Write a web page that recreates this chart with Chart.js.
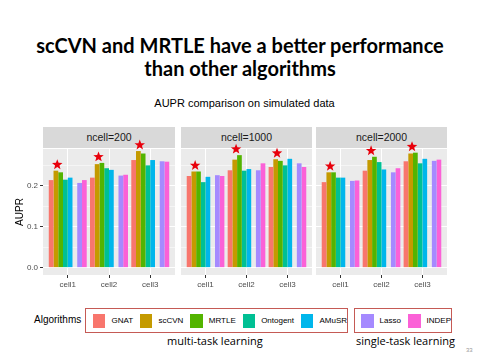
<!DOCTYPE html>
<html lang="en">
<head>
<meta charset="UTF-8">
<title>AUPR comparison on simulated data</title>
<style>
  body { margin: 0; width: 480px; height: 360px; background: #fff; position: relative; overflow: hidden;
         font-family: "Liberation Sans", Arial, sans-serif; }
  .abs { position: absolute; }
  #title { left: 0; width: 480px; top: 34px; text-align: center; font-family: Lato, sans-serif; font-weight: bold;
           font-size: 20px; line-height: 23px; color: #000; }
  #subtitle { left: 43px; width: 403px; top: 97px; text-align: center; font-size: 11px; color: #000; }
  .strip { top: 127px; height: 21px; line-height: 21px; background: #D9D9D9; text-align: center;
           font-size: 10.5px; color: #1A1A1A; }
  .box { border: 1px solid #C55A55; height: 25px; display: flex; align-items: center; gap: 7px; box-sizing: border-box; }
  .key { width: 14px; height: 14px; }
  .lab { font-size: 8px; color: #000; margin-left: -1px; }
  .group { font-family: "Open Sans", sans-serif; font-size: 11px; color: #000; top: 333px; }
</style>
</head>
<body>
<div id="title" class="abs">scCVN and MRTLE have a better performance<br>than other algorithms</div>
<div id="subtitle" class="abs">AUPR comparison on simulated data</div>
<div id="strips"></div>
<canvas id="p0" class="abs" width="175" height="170" style="left:0px;top:127px"></canvas>
<canvas id="p1" class="abs" width="131" height="170" style="left:181px;top:127px"></canvas>
<canvas id="p2" class="abs" width="131" height="170" style="left:316px;top:127px"></canvas>
<div class="abs" style="left:34px;top:314px;font-size:10px">Algorithms</div>
<div id="box1" class="abs box" style="left:85px;top:308px;width:263px;padding-left:7px"></div>
<div id="box2" class="abs box" style="left:354px;top:308px;width:98px;padding-left:6px"></div>
<div class="abs group" style="left:167px">multi-task learning</div>
<div class="abs group" style="left:356px">single-task learning</div>
<div class="abs" style="left:466px;top:347px;font-size:6px;color:#999">33</div>

<script src="https://cdn.jsdelivr.net/npm/chart.js"></script>
<script>
const cells = ['cell1', 'cell2', 'cell3'];
const panels = ['ncell=200', 'ncell=1000', 'ncell=2000'];
const algorithms = ['GNAT', 'scCVN', 'MRTLE', 'Ontogent', 'AMuSR', 'Lasso', 'INDEP'];
const colors = ['#F8766D', '#C49A00', '#53B400', '#00C094', '#00B6EB', '#A58AFF', '#FB61D7'];
const multiTask = 5; // first 5 algorithms are multi-task

// AUPR, one row per algorithm: [cell1, cell2, cell3]
const n200 = [
  [0.214, 0.220, 0.263],
  [0.237, 0.253, 0.285],
  [0.233, 0.256, 0.279],
  [0.215, 0.243, 0.250],
  [0.220, 0.239, 0.263],
  [0.207, 0.225, 0.260],
  [0.214, 0.227, 0.259]
];
const n1000 = [
  [0.224, 0.238, 0.246],
  [0.235, 0.264, 0.265],
  [0.235, 0.275, 0.261],
  [0.209, 0.237, 0.250],
  [0.222, 0.241, 0.266],
  [0.226, 0.238, 0.255],
  [0.224, 0.255, 0.246]
];
const n2000 = [
  [0.209, 0.237, 0.260],
  [0.233, 0.263, 0.279],
  [0.233, 0.271, 0.281],
  [0.220, 0.258, 0.255],
  [0.220, 0.240, 0.266],
  [0.212, 0.233, 0.261],
  [0.213, 0.243, 0.264]
];
const panelData = [n200, n1000, n2000];
const starred = [[1, 1, 1], [1, 1, 1], [1, 1, 1]];

const yTicks = [0, 0.1, 0.2];
const yLabels = ['0.0', '0.1', '0.2'];
const yMinor = [0.05, 0.15, 0.25];

// strips
const stripLeft = [43, 181, 316];
const stripBox = document.getElementById('strips');
panels.forEach((p, i) => {
  const d = document.createElement('div');
  d.className = 'abs strip';
  d.style.left = stripLeft[i] + 'px';
  d.style.width = (i === 0 ? 132 : 131) + 'px';
  d.textContent = p;
  stripBox.appendChild(d);
});

// legend
algorithms.forEach((a, i) => {
  const box = document.getElementById(i < multiTask ? 'box1' : 'box2');
  const k = document.createElement('div');
  k.className = 'key';
  k.style.background = colors[i];
  const l = document.createElement('div');
  l.className = 'lab';
  l.textContent = a;
  box.appendChild(k);
  box.appendChild(l);
});

const panelBg = {
  id: 'panelBg',
  beforeDraw(chart) {
    const { ctx, chartArea: a } = chart;
    ctx.save();
    ctx.fillStyle = '#EBEBEB';
    ctx.fillRect(a.left, a.top, a.right - a.left, a.bottom - a.top);
    ctx.restore();
  }
};

function drawStar(ctx, cx, cy, R, r) {
  ctx.beginPath();
  for (let i = 0; i < 10; i++) {
    const ang = -Math.PI / 2 + i * Math.PI / 5;
    const rad = i % 2 === 0 ? R : r;
    ctx.lineTo(cx + rad * Math.cos(ang), cy + rad * Math.sin(ang));
  }
  ctx.closePath();
  ctx.fill();
}

// star above the scCVN / MRTLE pair
const starMarks = {
  id: 'starMarks',
  afterDatasetsDraw(chart, args, opts) {
    const a = chart.getDatasetMeta(1).data, b = chart.getDatasetMeta(2).data;
    const ctx = chart.ctx;
    ctx.save();
    ctx.fillStyle = '#E8000B';
    opts.flags.forEach((f, i) => {
      if (!f) return;
      const x = (a[i].x + b[i].x) / 2 - 1;
      const y = Math.min(a[i].y, b[i].y) - 6;
      drawStar(ctx, x, y, 5.5, 2.3);
    });
    ctx.restore();
  }
};

const isMinor = v => yMinor.some(m => Math.abs(m - v) < 1e-9);

panelData.forEach((rows, p) => {
  const datasets = [];
  rows.forEach((vals, i) => {
    if (i === multiTask) {
      datasets.push({ label: '', data: cells.map((c, j) => ({ x: j, y: null })), backgroundColor: 'rgba(0,0,0,0)' });
    }
    datasets.push({
      label: algorithms[i],
      data: vals.map((v, j) => ({ x: j, y: v })),
      backgroundColor: colors[i]
    });
  });

  const first = p === 0;
  new Chart(document.getElementById('p' + p), {
    type: 'bar',
    data: { datasets },
    plugins: [panelBg, starMarks],
    options: {
      responsive: false,
      animation: false,
      devicePixelRatio: 1,
      layout: { padding: { top: 22, left: 0, right: 0, bottom: 0 } },
      categoryPercentage: 0.92,
      barPercentage: 1,
      plugins: {
        legend: { display: false },
        tooltip: { enabled: false },
        starMarks: { flags: starred[p] }
      },
      scales: {
        x: {
          type: 'linear',
          bounds: 'data',
          offset: false,
          min: -0.6,
          max: 2.6,
          afterBuildTicks: s => { s.ticks = cells.map((c, j) => ({ value: j })); },
          afterFit: s => { s.height = 22; },
          ticks: {
            callback: v => cells[v],
            color: '#4D4D4D',
            font: { family: 'Liberation Sans', size: 8 },
            padding: 2,
            maxRotation: 0
          },
          grid: { offset: false, color: '#FFFFFF', lineWidth: 1, tickLength: 3, tickColor: '#333333' },
          border: { display: false }
        },
        y: {
          bounds: 'data',
          min: -0.018,
          max: 0.29,
          afterBuildTicks: s => {
            s.ticks = yTicks.concat(yMinor).sort((a, b) => a - b).map(v => ({ value: v }));
          },
          afterFit: s => { s.width = first ? 43 : 0; },
          ticks: {
            display: first,
            callback: v => {
              const k = yTicks.findIndex(t => Math.abs(t - v) < 1e-9);
              return k < 0 ? '' : yLabels[k];
            },
            color: '#4D4D4D',
            font: { family: 'Liberation Sans', size: 8 },
            padding: 2
          },
          title: {
            display: first,
            text: 'AUPR',
            color: '#000',
            font: { family: 'Liberation Sans', size: 10 },
            padding: { top: 14, bottom: 0 }
          },
          grid: {
            color: '#FFFFFF',
            lineWidth: c => (isMinor(c.tick.value) ? 0.5 : 1),
            tickLength: 3,
            tickColor: c => (isMinor(c.tick.value) ? 'rgba(0,0,0,0)' : '#333333'),
            drawTicks: first
          },
          border: { display: false }
        }
      }
    }
  });
});
</script>
</body>
</html>
